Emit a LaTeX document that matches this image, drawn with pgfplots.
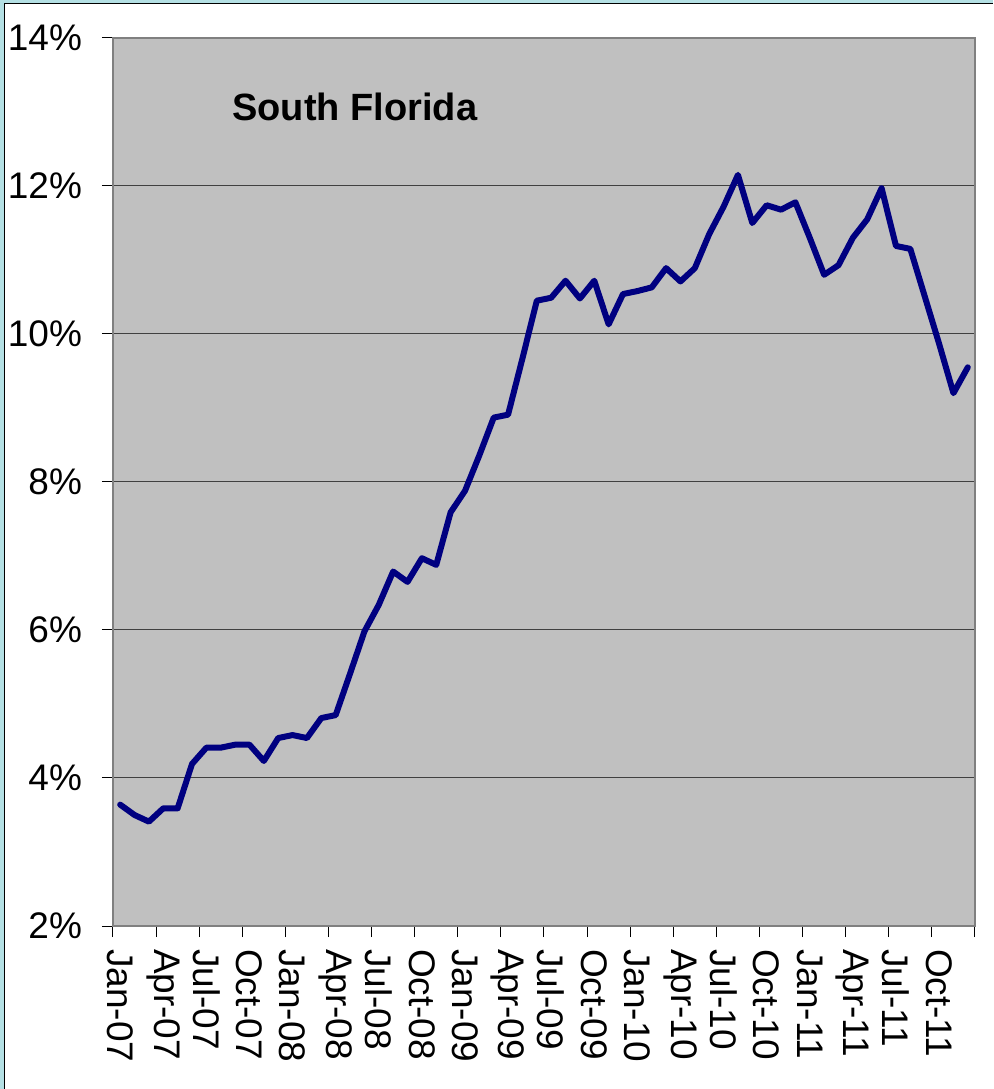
\documentclass[border=0pt]{standalone}
\usepackage{pgfplots}
\pgfplotsset{compat=1.18}
\usepackage{fontspec}
\setmainfont{Liberation Sans}
\definecolor{plotbg}{HTML}{C0C0C0}
\definecolor{navyline}{HTML}{000080}
\definecolor{framecyan}{HTML}{B4E0E4}
\definecolor{bordergray}{HTML}{808080}
\pgfplotstableread{
m v
0 3.64
1 3.50
2 3.41
3 3.59
4 3.59
5 4.19
6 4.41
7 4.41
8 4.45
9 4.45
10 4.23
11 4.54
12 4.58
13 4.54
14 4.81
15 4.85
16 5.41
17 5.98
18 6.34
19 6.79
20 6.65
21 6.97
22 6.88
23 7.59
24 7.88
25 8.36
26 8.87
27 8.91
28 9.67
29 10.45
30 10.49
31 10.72
32 10.48
33 10.72
34 10.13
35 10.54
36 10.58
37 10.63
38 10.89
39 10.71
40 10.89
41 11.35
42 11.72
43 12.15
44 11.50
45 11.74
46 11.68
47 11.78
48 11.30
49 10.80
50 10.93
51 11.30
52 11.55
53 11.97
54 11.19
55 11.15
56 10.51
57 9.87
58 9.20
59 9.55
}\sftable
\begin{document}
\begin{tikzpicture}
\path[use as bounding box, fill=white] (0,0) rectangle (496.5pt,544.5pt);
\fill[framecyan] (0,0) rectangle (2pt,544.5pt);
\fill[framecyan] (0,543pt) rectangle (496.5pt,544.5pt);
\draw[black, line width=0.5pt] (2.25pt,0) -- (2.25pt,542.75pt) -- (496.5pt,542.75pt);
\begin{axis}[
  at={(56.5pt,81.5pt)}, anchor=south west,
  scale only axis, width=431pt, height=444pt,
  xmin=-0.5, xmax=59.5, ymin=2, ymax=14,
  axis background/.style={fill=plotbg},
  axis line style={draw=bordergray, line width=1pt},
  tick align=outside,
  xtick pos=lower, ytick pos=left,
  major tick length=5.5pt,
  tick style={black, line width=0.5pt},
  xtick={-0.5,2.5,...,56.5,59.5},
  xticklabels={Jan-07,Apr-07,Jul-07,Oct-07,Jan-08,Apr-08,Jul-08,Oct-08,Jan-09,Apr-09,Jul-09,Oct-09,Jan-10,Apr-10,Jul-10,Oct-10,Jan-11,Apr-11,Jul-11,Oct-11,{}},
  xticklabel style={rotate=-90, anchor=west, xshift=2.5pt, yshift=3.59pt, font=\fontsize{18.5}{20}\selectfont},
  ytick={2,4,...,14},
  yticklabels={2\%,4\%,6\%,8\%,10\%,12\%,14\%},
  yticklabel style={xshift=-6.5pt, font=\fontsize{18.5}{20}\selectfont},
  ymajorgrids,
  grid style={black!75, line width=0.5pt},
  clip=false,
]
\addplot[navyline, line width=3pt, line join=round, line cap=round] table[x=m, y=v] {\sftable};
\node[anchor=west, font=\bfseries\fontsize{19}{22}\selectfont, inner sep=0pt] at (rel axis cs:0.138,0.922) {South Florida};
\end{axis}
\end{tikzpicture}
\end{document}
